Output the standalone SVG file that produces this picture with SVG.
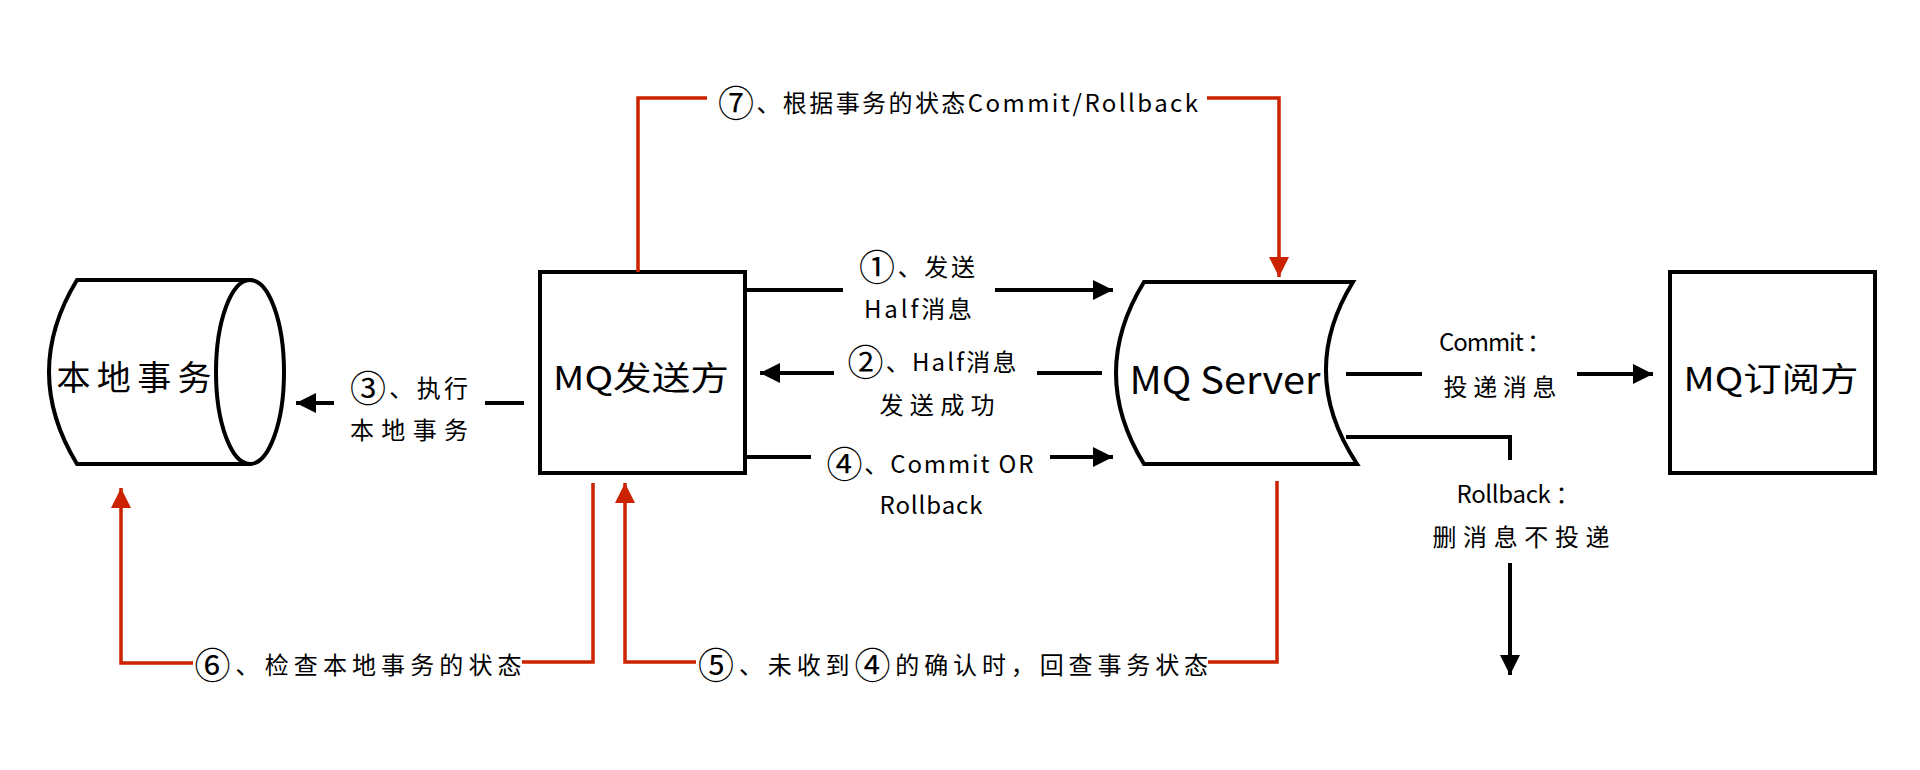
<svg xmlns="http://www.w3.org/2000/svg" width="1920" height="770" viewBox="0 0 1920 770">
<style>
text{font-family:"Noto Sans CJK SC","Noto Sans",sans-serif;fill:#000;dominant-baseline:central;text-anchor:middle}
.lbl{font-size:24px}
.node{font-size:33px}
.cn{font-family:"Noto Sans CJK SC",sans-serif;font-size:36px}
.shape{fill:#fff;stroke:#000;stroke-width:4;stroke-linejoin:miter}
.blk{fill:none;stroke:#000;stroke-width:4}
.red{fill:none;stroke:#cc2200;stroke-width:3.5}
</style>
<defs>
<marker id="ab" markerUnits="userSpaceOnUse" markerWidth="22" markerHeight="22" viewBox="0 0 22 22" refX="20" refY="11" orient="auto"><path d="M0 1 L20 11 L0 21 Z" fill="#000"/></marker>
<marker id="ar" markerUnits="userSpaceOnUse" markerWidth="22" markerHeight="22" viewBox="0 0 22 22" refX="20" refY="11" orient="auto"><path d="M0 1 L20 11 L0 21 Z" fill="#cc2200"/></marker>
</defs>
<rect width="1920" height="770" fill="#fff"/>
<g id="local-tx">
<path class="shape" d="M250 280 L77 280 Q21 372 77 464 L250 464 Z"/>
<ellipse class="shape" cx="250" cy="372" rx="34" ry="92"/>
<text class="node" x="134" y="375" textLength="155" lengthAdjust="spacing" style="font-size:34px">本地事务</text>
</g>
<g id="mq-sender">
<rect class="shape" x="540" y="272" width="205" height="201"/>
<text class="node" x="641" y="376" textLength="176" lengthAdjust="spacingAndGlyphs">MQ发送方</text>
</g>
<g id="mq-server">
<path class="shape" d="M1144 282 L1353 282 Q1297 373 1357 464 L1144 464 Q1088 373 1144 282 Z"/>
<text class="node" x="1225" y="377" textLength="191" lengthAdjust="spacingAndGlyphs" style="font-size:38px">MQ Server</text>
</g>
<g id="mq-subscriber">
<rect class="shape" x="1670" y="272" width="205" height="201"/>
<text class="node" x="1771" y="377" textLength="175" lengthAdjust="spacingAndGlyphs">MQ订阅方</text>
</g>
<g id="connectors">
<line class="blk" x1="745" y1="290" x2="843" y2="290"/>
<line class="blk" x1="995" y1="290" x2="1113" y2="290" marker-end="url(#ab)"/>
<line class="blk" x1="1102" y1="373" x2="1037" y2="373"/>
<line class="blk" x1="834" y1="373" x2="760" y2="373" marker-end="url(#ab)"/>
<line class="blk" x1="524" y1="403" x2="485" y2="403"/>
<line class="blk" x1="334" y1="403" x2="296" y2="403" marker-end="url(#ab)"/>
<line class="blk" x1="745" y1="457" x2="811" y2="457"/>
<line class="blk" x1="1050" y1="457" x2="1113" y2="457" marker-end="url(#ab)"/>
<line class="blk" x1="1346" y1="374" x2="1422" y2="374"/>
<line class="blk" x1="1577" y1="374" x2="1653" y2="374" marker-end="url(#ab)"/>
<polyline class="blk" points="1346,437 1510,437 1510,460"/>
<line class="blk" x1="1510" y1="563" x2="1510" y2="675" marker-end="url(#ab)"/>
<polyline class="red" points="638,272 638,98 707,98"/>
<polyline class="red" points="1207,98 1279,98 1279,277" marker-end="url(#ar)"/>
<polyline class="red" points="593,483 593,662 522,662"/>
<polyline class="red" points="193,663 121,663 121,488" marker-end="url(#ar)"/>
<polyline class="red" points="1277,481 1277,662 1208,662"/>
<polyline class="red" points="696,662 625,662 625,483" marker-end="url(#ar)"/>
</g>
<g id="labels">
<text class="lbl" x="409" y="386" textLength="118" lengthAdjust="spacing"><tspan class="cn">③</tspan>、执行</text>
<text class="lbl" x="409" y="428" textLength="118" lengthAdjust="spacing">本地事务</text>
<text class="lbl" x="917" y="265" textLength="116" lengthAdjust="spacing"><tspan class="cn">①</tspan>、发送</text>
<text class="lbl" x="918" y="307" textLength="108" lengthAdjust="spacing">Half消息</text>
<text class="lbl" x="932" y="360" textLength="169" lengthAdjust="spacing"><tspan class="cn">②</tspan>、Half消息</text>
<text class="lbl" x="937" y="403" textLength="115" lengthAdjust="spacing">发送成功</text>
<text class="lbl" x="930" y="462" textLength="207" lengthAdjust="spacing"><tspan class="cn">④</tspan>、Commit OR</text>
<text class="lbl" x="931" y="503" textLength="103" lengthAdjust="spacing">Rollback</text>
<text class="lbl" x="1495" y="340" textLength="112" lengthAdjust="spacing">Commit ：</text>
<text class="lbl" x="1500" y="385" textLength="113" lengthAdjust="spacing">投递消息</text>
<text class="lbl" x="1518" y="492" textLength="123" lengthAdjust="spacing">Rollback ：</text>
<text class="lbl" x="1521" y="535" textLength="177" lengthAdjust="spacing">删消息不投递</text>
<text class="lbl" x="958" y="101" textLength="480" lengthAdjust="spacing"><tspan class="cn">⑦</tspan>、根据事务的状态Commit/Rollback</text>
<text class="lbl" x="358" y="663" textLength="327" lengthAdjust="spacing"><tspan class="cn">⑥</tspan>、检查本地事务的状态</text>
<text class="lbl" x="953" y="663" textLength="510" lengthAdjust="spacing"><tspan class="cn">⑤</tspan>、未收到<tspan class="cn">④</tspan>的确认时，回查事务状态</text>
</g>
</svg>
